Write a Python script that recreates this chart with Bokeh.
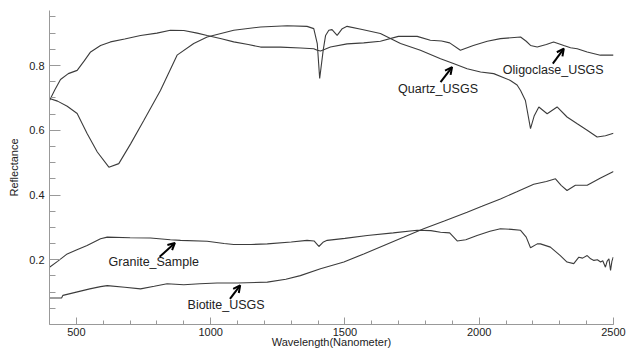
from bokeh.plotting import figure
from bokeh.models import Label, Arrow, OpenHead, FixedTicker
from bokeh.embed import file_html
from bokeh.resources import INLINE

# ---- data ----
oligo_wl = [400, 420, 441, 470, 503, 530, 553, 590, 627, 680, 739, 800, 850, 900, 950, 987, 1040, 1086, 1140,
            1186, 1260, 1335, 1384, 1397, 1409, 1421, 1446, 1508, 1570, 1632, 1699, 1769, 1818, 1860, 1890, 1930,
            1978, 2030, 2079, 2154, 2175, 2191, 2216, 2250, 2277, 2315, 2340, 2365, 2402, 2451, 2500]
oligo_r = [0.692, 0.725, 0.757, 0.775, 0.785, 0.815, 0.842, 0.862, 0.873, 0.882, 0.893, 0.9, 0.909, 0.908, 0.9,
           0.893, 0.883, 0.873, 0.865, 0.857, 0.857, 0.854, 0.852, 0.847, 0.845, 0.849, 0.857, 0.867, 0.87, 0.875,
           0.89, 0.89, 0.878, 0.876, 0.87, 0.847, 0.862, 0.875, 0.883, 0.888, 0.875, 0.862, 0.857, 0.865, 0.873,
           0.862, 0.855, 0.852, 0.842, 0.832, 0.832]

quartz_wl = [400, 430, 466, 503, 540, 578, 621, 658, 702, 751, 813, 875, 937, 987, 1086, 1186, 1285, 1359, 1384,
             1397, 1406, 1419, 1428, 1440, 1452, 1471, 1490, 1508, 1560, 1632, 1707, 1781, 1856, 1904, 1955, 2005,
             2054, 2116, 2141, 2154, 2172, 2191, 2205, 2222, 2253, 2290, 2327, 2365, 2402, 2439, 2470, 2500]
quartz_r = [0.698, 0.69, 0.674, 0.652, 0.59, 0.533, 0.486, 0.497, 0.558, 0.63, 0.723, 0.832, 0.868, 0.888, 0.909,
            0.919, 0.923, 0.921, 0.914, 0.868, 0.76, 0.847, 0.893, 0.909, 0.911, 0.893, 0.914, 0.921, 0.912, 0.899,
            0.868, 0.847, 0.821, 0.806, 0.79, 0.78, 0.775, 0.754, 0.74, 0.723, 0.692, 0.605, 0.645, 0.672, 0.651,
            0.672, 0.641, 0.62, 0.6, 0.579, 0.583, 0.591]

granite_wl = [400, 430, 466, 500, 540, 590, 615, 700, 776, 850, 888, 987, 1050, 1086, 1150, 1211, 1300, 1359, 1385,
              1403, 1420, 1434, 1500, 1583, 1680, 1769, 1820, 1856, 1890, 1918, 1950, 1992, 2040, 2079, 2120, 2154,
              2175, 2191, 2216, 2228, 2265, 2302, 2327, 2352, 2371, 2385, 2402, 2415, 2427, 2440, 2452, 2460, 2470,
              2476, 2483, 2489, 2494, 2499]
granite_r = [0.177, 0.195, 0.218, 0.23, 0.244, 0.265, 0.27, 0.268, 0.267, 0.262, 0.26, 0.257, 0.25, 0.247, 0.247,
             0.249, 0.255, 0.26, 0.258, 0.241, 0.255, 0.26, 0.266, 0.275, 0.283, 0.291, 0.29, 0.285, 0.283, 0.258,
             0.262, 0.275, 0.288, 0.296, 0.294, 0.291, 0.27, 0.237, 0.249, 0.249, 0.239, 0.213, 0.193, 0.188, 0.208,
             0.205, 0.213, 0.203, 0.198, 0.2, 0.193, 0.197, 0.177, 0.195, 0.203, 0.167, 0.195, 0.208]

biotite_wl = [400, 445, 450, 500, 550, 590, 615, 680, 739, 790, 838, 900, 960, 1024, 1100, 1211, 1280, 1334, 1409,
              1496, 1570, 1645, 1720, 1793, 1870, 1955, 2010, 2079, 2140, 2203, 2250, 2284, 2305, 2327, 2358, 2402,
              2450, 2500]
biotite_r = [0.082, 0.082, 0.09, 0.1, 0.11, 0.117, 0.12, 0.115, 0.11, 0.118, 0.126, 0.123, 0.126, 0.128, 0.128,
             0.131, 0.14, 0.151, 0.172, 0.193, 0.218, 0.244, 0.27, 0.296, 0.32, 0.347, 0.365, 0.388, 0.41, 0.433,
             0.442, 0.45, 0.43, 0.414, 0.43, 0.43, 0.452, 0.473]

x_ticks = [500, 1000, 1500, 2000, 2500]
x_minor = [400, 500, 600, 700, 800, 900, 1000, 1100, 1200, 1300, 1400, 1500, 1600, 1700, 1800, 1900, 2000,
           2100, 2200, 2300, 2400, 2500]
y_ticks = [0.2, 0.4, 0.6, 0.8]
y_minor = [0.05, 0.1, 0.15, 0.2, 0.25, 0.3, 0.35, 0.4, 0.45, 0.5, 0.55, 0.6, 0.65, 0.7, 0.75, 0.8, 0.85, 0.9, 0.95]

x_title = "Wavelength(Nanometer)"
y_title = "Reflectance"

# annotation: (text, text_x, text_y, arrow tail x, tail y, head x, head y)
annotations = [
    ("Granite_Sample", 620, 0.192, 810, 0.209, 867, 0.252),
    ("Biotite_USGS", 914, 0.059, 1072, 0.079, 1110, 0.121),
    ("Quartz_USGS", 1698, 0.729, 1856, 0.749, 1899, 0.795),
    ("Oligoclase_USGS", 2088, 0.786, 2274, 0.806, 2315, 0.852),
]

FONT = "Liberation Sans"

p = figure(width=626, height=354, x_range=(400, 2500), y_range=(0, 0.97),
           output_backend="svg", toolbar_location=None,
           min_border_left=49, min_border_right=13, min_border_top=10, min_border_bottom=30)
p.outline_line_color = None
p.xgrid.visible = False
p.ygrid.visible = False
p.background_fill_color = "white"

line_color = "#3c3c3c"
for wl, r in [(oligo_wl, oligo_r), (quartz_wl, quartz_r), (granite_wl, granite_r), (biotite_wl, biotite_r)]:
    p.line(wl, r, line_color=line_color, line_width=1.1)

p.xaxis.ticker = FixedTicker(ticks=x_ticks, minor_ticks=x_minor)
p.yaxis.ticker = FixedTicker(ticks=y_ticks, minor_ticks=y_minor)
p.xaxis.major_label_overrides = {500: "500", 1000: "1000", 1500: "1500", 2000: "2000", 2500: "2500"}

for ax in [p.xaxis[0], p.yaxis[0]]:
    ax.axis_line_color = "#999999"
    ax.major_tick_line_color = "#999999"
    ax.minor_tick_line_color = "#999999"
    ax.major_tick_out = 0
    ax.minor_tick_out = 0
    ax.major_label_text_font = FONT
    ax.major_label_text_font_size = "11px"
    ax.major_label_text_color = "#222222"
    ax.axis_label_text_font = FONT
    ax.axis_label_text_font_size = "11px"
    ax.axis_label_text_font_style = "normal"
    ax.axis_label_text_color = "#222222"

p.xaxis.major_tick_in = 7
p.xaxis.minor_tick_in = 4
p.yaxis.major_tick_in = 11
p.yaxis.minor_tick_in = 6
p.xaxis.major_label_standoff = 3
p.yaxis.major_label_standoff = 5
p.xaxis.axis_label = x_title
p.yaxis.axis_label = y_title
p.xaxis.axis_label_standoff = -3
p.yaxis.axis_label_standoff = 6

for text, tx, ty, x0, y0, x1, y1 in annotations:
    p.add_layout(Label(x=tx, y=ty, text=text, text_font=FONT, text_font_size="12.5px",
                       text_align="left", text_baseline="middle", text_color="#222222"))
    p.add_layout(Arrow(x_start=x0, y_start=y0, x_end=x1, y_end=y1, line_width=2, line_color="black",
                       end=OpenHead(size=7, line_width=2, line_color="black")))

open("out.html", "w").write(file_html(p, INLINE))
